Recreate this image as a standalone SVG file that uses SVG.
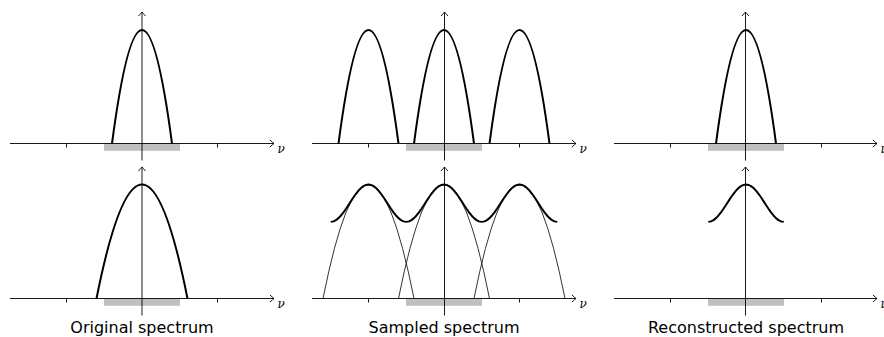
<svg xmlns="http://www.w3.org/2000/svg" width="884" height="337" viewBox="0 0 884 337">
<defs>
<marker id="arr" markerUnits="userSpaceOnUse" markerWidth="10" markerHeight="10" viewBox="-5 -5 10 10" refX="0" refY="0" orient="auto" overflow="visible">
<path d="M -3.8 -3.3 Q -1.2 -0.9 0 0 Q -1.2 0.9 -3.8 3.3" fill="none" stroke="#000" stroke-width="0.9" stroke-linecap="round"/>
</marker>
</defs>
<style>
.ax{stroke:#000;stroke-width:0.9;fill:none}
.axa{stroke:#000;stroke-width:0.9;fill:none;marker-end:url(#arr)}
.tk{stroke:#000;stroke-width:0.9}
.bar{fill:#c0c0c0}
.thick{fill:none;stroke:#000;stroke-width:2;stroke-linejoin:round;stroke-linecap:butt}
.thin{fill:none;stroke:#000;stroke-width:0.8}
.nu{font-family:"DejaVu Serif","Liberation Serif",serif;font-style:italic;font-size:12px;fill:#000}
.lbl{font-family:"DejaVu Sans",sans-serif;font-size:16px;fill:#000;text-anchor:middle}
</style>

<g id="original-top">
<rect class="bar" x="104" y="143.5" width="76" height="7.3"/>
<line class="axa" x1="10" y1="143.5" x2="274" y2="143.5"/>
<line class="tk" x1="66.5" y1="143.5" x2="66.5" y2="147.5"/>
<line class="tk" x1="217.5" y1="143.5" x2="217.5" y2="147.5"/>
<path class="thick" d="M 112 143.5 Q 142 -83.5 172 143.5"/>
<line class="axa" x1="142" y1="160.5" x2="142" y2="12"/>
<text class="nu" x="277.5" y="152.5">ν</text>
</g>

<g id="sampled-top">
<rect class="bar" x="406" y="143.5" width="76" height="7.3"/>
<line class="axa" x1="312" y1="143.5" x2="576" y2="143.5"/>
<line class="tk" x1="368.5" y1="143.5" x2="368.5" y2="147.5"/>
<line class="tk" x1="519.5" y1="143.5" x2="519.5" y2="147.5"/>
<path class="thick" d="M 338.5 143.5 Q 368.5 -83.5 398.5 143.5 M 414 143.5 Q 444 -83.5 474 143.5 M 489.5 143.5 Q 519.5 -83.5 549.5 143.5"/>
<line class="axa" x1="444.5" y1="160.5" x2="444.5" y2="12"/>
<text class="nu" x="579.5" y="152.5">ν</text>
</g>

<g id="reconstructed-top">
<rect class="bar" x="708" y="143.5" width="76" height="7.3"/>
<line class="axa" x1="614" y1="143.5" x2="877" y2="143.5"/>
<line class="tk" x1="670.5" y1="143.5" x2="670.5" y2="147.5"/>
<line class="tk" x1="821.5" y1="143.5" x2="821.5" y2="147.5"/>
<path class="thick" d="M 716 143.5 Q 746 -83.5 776 143.5"/>
<line class="axa" x1="745.5" y1="160.5" x2="745.5" y2="12"/>
<text class="nu" x="880.5" y="152.5">ν</text>
</g>

<g id="original-bottom">
<rect class="bar" x="104" y="298.5" width="76" height="7.3"/>
<line class="axa" x1="10" y1="298.5" x2="274" y2="298.5"/>
<line class="tk" x1="66.5" y1="298.5" x2="66.5" y2="302.5"/>
<line class="tk" x1="217.5" y1="298.5" x2="217.5" y2="302.5"/>
<path class="thick" d="M 96.5 298.5 Q 142 70.5 187.5 298.5"/>
<line class="axa" x1="142" y1="315.5" x2="142" y2="167"/>
<text class="nu" x="277.5" y="307.5">ν</text>
<text class="lbl" x="142" y="333">Original spectrum</text>
</g>

<g id="sampled-bottom">
<rect class="bar" x="406" y="298.5" width="76" height="7.3"/>
<line class="axa" x1="312" y1="298.5" x2="576" y2="298.5"/>
<line class="tk" x1="368.5" y1="298.5" x2="368.5" y2="302.5"/>
<line class="tk" x1="519.5" y1="298.5" x2="519.5" y2="302.5"/>
<path class="thin" d="M 323 298.5 Q 368.5 70.5 414 298.5 M 398.5 298.5 Q 444 70.5 489.5 298.5 M 474 298.5 Q 519.5 70.5 565 298.5"/>
<polyline class="thick" points="330.75,221.86 333.5,221.36 336,220.11 338.5,218.12 341,215.49 343.5,212.32 346,208.76 348.5,204.96 351,201.09 353.5,197.29 356,193.76 358.5,190.63 361,188.04 363.5,186.10 366,184.91 368.5,184.50 371,184.91 373.5,186.10 376,188.04 378.5,190.63 381,193.76 383.5,197.29 386,201.09 388.5,204.96 391,208.76 393.5,212.32 396,215.49 398.5,218.12 401,220.11 403.5,221.36 406.25,221.86 409,221.36 411.5,220.11 414,218.12 416.5,215.49 419,212.32 421.5,208.76 424,204.96 426.5,201.09 429,197.29 431.5,193.76 434,190.63 436.5,188.04 439,186.10 441.5,184.91 444,184.50 446.5,184.91 449,186.10 451.5,188.04 454,190.63 456.5,193.76 459,197.29 461.5,201.09 464,204.96 466.5,208.76 469,212.32 471.5,215.49 474,218.12 476.5,220.11 479,221.36 481.75,221.86 484.5,221.36 487,220.11 489.5,218.12 492,215.49 494.5,212.32 497,208.76 499.5,204.96 502,201.09 504.5,197.29 507,193.76 509.5,190.63 512,188.04 514.5,186.10 517,184.91 519.5,184.50 522,184.91 524.5,186.10 527,188.04 529.5,190.63 532,193.76 534.5,197.29 537,201.09 539.5,204.96 542,208.76 544.5,212.32 547,215.49 549.5,218.12 552,220.11 554.5,221.36 557.25,221.86"/>
<line class="axa" x1="444.5" y1="315.5" x2="444.5" y2="167"/>
<text class="nu" x="579.5" y="307.5">ν</text>
<text class="lbl" x="444" y="333">Sampled spectrum</text>
</g>

<g id="reconstructed-bottom">
<rect class="bar" x="708" y="298.5" width="76" height="7.3"/>
<line class="axa" x1="614" y1="298.5" x2="877" y2="298.5"/>
<line class="tk" x1="670.5" y1="298.5" x2="670.5" y2="302.5"/>
<line class="tk" x1="821.5" y1="298.5" x2="821.5" y2="302.5"/>
<polyline class="thick" points="708.25,221.86 711,221.36 713.5,220.11 716,218.12 718.5,215.49 721,212.32 723.5,208.76 726,204.96 728.5,201.09 731,197.29 733.5,193.76 736,190.63 738.5,188.04 741,186.10 743.5,184.91 746,184.50 748.5,184.91 751,186.10 753.5,188.04 756,190.63 758.5,193.76 761,197.29 763.5,201.09 766,204.96 768.5,208.76 771,212.32 773.5,215.49 776,218.12 778.5,220.11 781,221.36 783.75,221.86"/>
<line class="axa" x1="745.5" y1="315.5" x2="745.5" y2="167"/>
<text class="nu" x="880.5" y="307.5">ν</text>
<text class="lbl" x="746" y="333">Reconstructed spectrum</text>
</g>
</svg>
